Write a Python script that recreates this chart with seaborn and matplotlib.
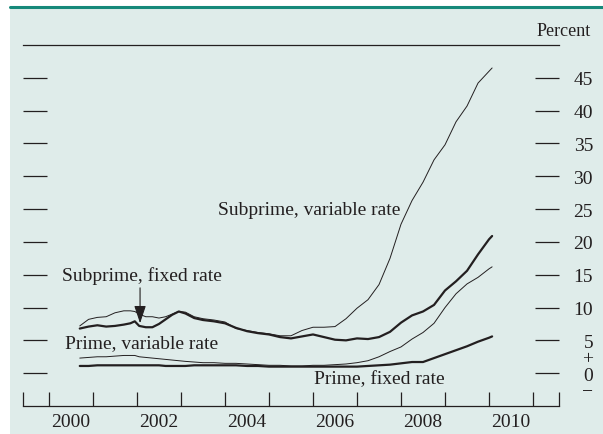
import numpy as np
import pandas as pd
import seaborn as sns
import matplotlib.pyplot as plt
from matplotlib.patches import Rectangle
from matplotlib.lines import Line2D

sns.set_theme(style="white")
plt.rcParams['font.family'] = ['Liberation Serif', 'DejaVu Serif']
plt.rcParams['axes.unicode_minus'] = True

# dates as decimal years
dates = [2000.7, 2000.9, 2001.1, 2001.3, 2001.5, 2001.7, 2001.85, 2001.95, 2002.05, 2002.2,
         2002.35, 2002.5, 2002.65, 2002.8, 2002.95, 2003.1, 2003.3, 2003.5, 2003.75, 2004.0,
         2004.25, 2004.5, 2004.75, 2005.0, 2005.25, 2005.5, 2005.75, 2006.0, 2006.25, 2006.5,
         2006.75, 2007.0, 2007.25, 2007.5, 2007.75, 2008.0, 2008.25, 2008.5, 2008.75, 2009.0,
         2009.25, 2009.5, 2009.75, 2010.0, 2010.07]

sub_var = [7.2, 8.2, 8.5, 8.6, 9.2, 9.5, 9.5, 9.4, 9.0, 8.6,
           8.6, 8.4, 8.6, 9.0, 9.4, 9.3, 8.6, 8.3, 8.1, 7.8,
           6.8, 6.5, 6.2, 6.0, 5.7, 5.7, 6.5, 7.0, 7.0, 7.1,
           8.3, 9.9, 11.2, 13.5, 17.5, 22.7, 26.3, 29.1, 32.5, 34.8,
           38.3, 40.7, 44.2, 46.0, 46.5]

sub_fixed = [6.8, 7.1, 7.3, 7.1, 7.2, 7.4, 7.6, 7.9, 7.2, 7.0,
             7.0, 7.5, 8.2, 8.9, 9.4, 9.1, 8.4, 8.1, 7.9, 7.6,
             6.9, 6.4, 6.1, 5.9, 5.5, 5.3, 5.6, 5.9, 5.5, 5.1,
             5.0, 5.3, 5.2, 5.5, 6.3, 7.7, 8.8, 9.4, 10.4, 12.6,
             14.0, 15.6, 18.1, 20.4, 20.9]

prime_var = [2.3, 2.4, 2.5, 2.5, 2.6, 2.7, 2.7, 2.7, 2.5, 2.4,
             2.3, 2.2, 2.1, 2.0, 1.9, 1.8, 1.7, 1.6, 1.6, 1.5,
             1.5, 1.4, 1.3, 1.2, 1.2, 1.1, 1.1, 1.2, 1.2, 1.3,
             1.4, 1.6, 1.9, 2.5, 3.3, 4.0, 5.2, 6.2, 7.6, 10.0,
             12.1, 13.6, 14.6, 15.9, 16.2]

prime_fixed = [1.1, 1.1, 1.2, 1.2, 1.2, 1.2, 1.2, 1.2, 1.2, 1.2,
               1.2, 1.2, 1.1, 1.1, 1.1, 1.1, 1.2, 1.2, 1.2, 1.2,
               1.2, 1.1, 1.1, 1.0, 1.0, 1.0, 1.0, 1.0, 1.0, 1.0,
               1.0, 1.0, 1.1, 1.2, 1.3, 1.5, 1.7, 1.7, 2.3, 2.9,
               3.5, 4.1, 4.8, 5.4, 5.6]

year_labels = ["2000", "2002", "2004", "2006", "2008", "2010"]
y_ticks = [0, 5, 10, 15, 20, 25, 30, 35, 40, 45]

ink = "#231f20"
bg = "#dfecea"
teal = "#16897a"
fs = 14

df = pd.DataFrame({"date": dates, "sub_var": sub_var, "sub_fixed": sub_fixed,
                   "prime_var": prime_var, "prime_fixed": prime_fixed})

W, H = 603, 435
fig = plt.figure(figsize=(W / 100, H / 100), dpi=100)
fig.patch.set_facecolor("white")
fig.patches.append(Rectangle((10 / W, 0), 1 - 10 / W, 1 - 10 / H, transform=fig.transFigure,
                             facecolor=bg, edgecolor="none", zorder=-10))
fig.lines.append(Line2D([10 / W, 1], [1 - 8 / H, 1 - 8 / H], transform=fig.transFigure,
                        color=teal, linewidth=2.2, zorder=-5))

ax = fig.add_axes([23 / W, (H - 407) / H, 536 / W, 361 / H])
ax.set_facecolor("none")

# thin lines = variable rate, thick = fixed rate
sns.lineplot(data=df, x="date", y="sub_var", ax=ax, color=ink, linewidth=0.7)
sns.lineplot(data=df, x="date", y="prime_var", ax=ax, color=ink, linewidth=0.7)
sns.lineplot(data=df, x="date", y="sub_fixed", ax=ax, color=ink, linewidth=1.6)
sns.lineplot(data=df, x="date", y="prime_fixed", ax=ax, color=ink, linewidth=1.6)

ax.set_xlim(1999.41, 2011.59)
ax.set_ylim(-5, 50)
ax.set_xlabel("")
ax.set_ylabel("")

for s in ["left", "right"]:
    ax.spines[s].set_visible(False)
for s in ["top", "bottom"]:
    ax.spines[s].set_visible(True)
    ax.spines[s].set_color(ink)
    ax.spines[s].set_linewidth(0.9)

# x axis: year ticks pointing up, labels in the middle of even years
ax.set_xticks([1999.42] + list(range(2000, 2012)) + [2011.58])
ax.set_xticklabels([])
ax.set_xticks([int(y) + 0.5 for y in year_labels], minor=True)
ax.set_xticklabels(year_labels, minor=True)
ax.tick_params(axis="x", which="major", direction="in", length=10, width=0.9, color=ink,
               bottom=True, top=False)
ax.tick_params(axis="x", which="minor", length=0, pad=5, labelsize=fs, labelcolor=ink,
               bottom=True)

# y axis: dashes on both sides, numbers on the right
ax.set_yticks(y_ticks)
ax.set_yticklabels([str(v) for v in y_ticks])
ax.set_yticks([2.5, -2.5], minor=True)
ax.set_yticklabels(["+", "\u2212"], minor=True)
ax.tick_params(axis="y", which="major", direction="in", length=17, width=0.9, color=ink,
               left=True, right=True, labelleft=False, labelright=True,
               pad=24.5, labelsize=fs, labelcolor=ink)
ax.tick_params(axis="y", which="minor", length=0, left=False, right=True,
               labelleft=False, labelright=True, pad=24.5, labelsize=fs, labelcolor=ink)
for lbl in ax.get_yticklabels(which="both"):
    lbl.set_horizontalalignment("right")

ax.text(1.0597, 1.039, "Percent", transform=ax.transAxes, ha="right", va="center",
        fontsize=13, color=ink)

ax.text(2003.84, 25.0, "Subprime, variable rate", ha="left", va="center", fontsize=fs, color=ink)
ax.text(2000.3, 15.0, "Subprime, fixed rate", ha="left", va="center", fontsize=fs, color=ink)
ax.text(2000.36, 4.7, "Prime, variable rate", ha="left", va="center", fontsize=fs, color=ink)
ax.text(2006.02, -0.9, "Prime, fixed rate", ha="left", va="center", fontsize=fs, color=ink)
ax.annotate("", xy=(2002.07, 7.6), xytext=(2002.07, 13.0),
            arrowprops=dict(arrowstyle="-|>,head_length=0.9,head_width=0.3", color=ink, lw=0.8,
                            mutation_scale=12, shrinkA=0, shrinkB=0))

plt.savefig("out.png", dpi=100)
